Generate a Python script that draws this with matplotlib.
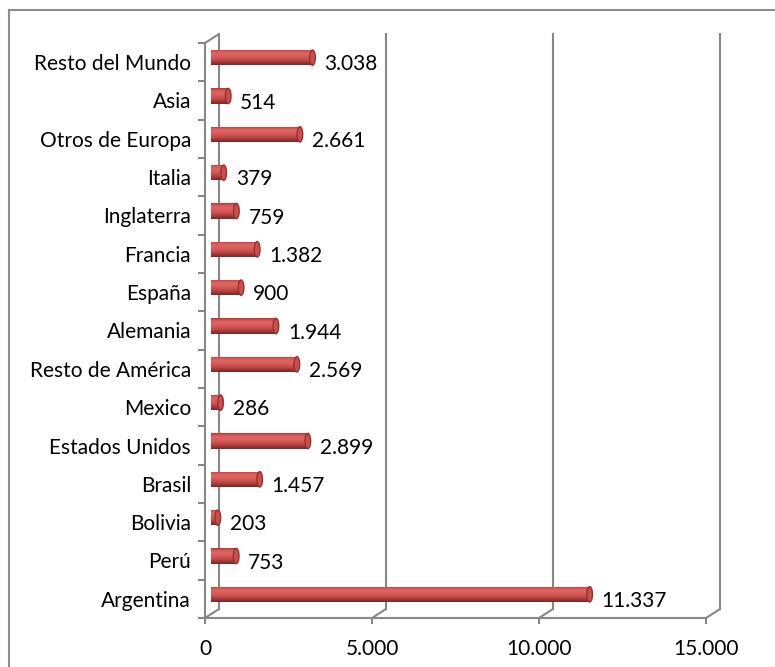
import matplotlib
matplotlib.use("Agg")
import matplotlib.pyplot as plt
import numpy as np
from matplotlib.transforms import ScaledTranslation
from matplotlib.patches import ConnectionPatch, Ellipse
from matplotlib.lines import Line2D
from matplotlib.colors import LinearSegmentedColormap

# Data
categories = ["Argentina", "Perú", "Bolivia", "Brasil", "Estados Unidos", "Mexico",
              "Resto de América", "Alemania", "España", "Francia", "Inglaterra",
              "Italia", "Otros de Europa", "Asia", "Resto del Mundo"]
values = [11337, 753, 203, 1457, 2899, 286, 2569, 1944, 900, 1382, 759, 379,
          2661, 514, 3038]
x_ticks = [0, 5000, 10000, 15000]

W, H, DPI = 775, 667, 100
fig = plt.figure(figsize=(W / DPI, H / DPI), dpi=DPI)
plt.rcParams["font.family"] = ["Lato", "DejaVu Sans"]
FS = 15
GRAY = "#878787"

# front plane of the 3-D box
left_px, right_px, bot_px, top_px = 205, 706, 618, 43
ax = fig.add_axes([left_px / W, (H - bot_px) / H, (right_px - left_px) / W,
                   (bot_px - top_px) / H])
n = len(categories)
ax.set_xlim(0, 15000)
ax.set_ylim(-0.5, n - 0.5)
ax.patch.set_visible(False)

back = ax.transData + ScaledTranslation(0.14, 0.09, fig.dpi_scale_trans)
mid = ax.transData + ScaledTranslation(0.06, 0.045, fig.dpi_scale_trans)

# spines / ticks
for s in ["top", "right"]:
    ax.spines[s].set_visible(False)
for s in ["left", "bottom"]:
    ax.spines[s].set_color(GRAY)
    ax.spines[s].set_linewidth(1.5)

ax.set_xticks(x_ticks)
ax.set_xticklabels([f"{t:,}".replace(",", ".") for t in x_ticks], fontsize=FS)
ax.tick_params(axis="x", length=4, width=1.5, color=GRAY, pad=11)

ypos = np.arange(n)
ax.set_yticks(ypos)
ax.set_yticklabels(categories, fontsize=FS)
ax.set_yticks(np.arange(n + 1) - 0.5, minor=True)
ax.tick_params(axis="y", which="major", length=0, pad=10)
ax.tick_params(axis="y", which="minor", length=5, width=1.5, color=GRAY)

# back wall gridlines and floor edges
for t in x_ticks:
    ax.add_line(Line2D([t, t], [-0.5, n - 0.5], transform=back, color=GRAY,
                       lw=1.5, clip_on=False, zorder=1))
    cp = ConnectionPatch((t, -0.5), (t, -0.5), coordsA=ax.transData, coordsB=back,
                         color=GRAY, lw=1.5, zorder=1)
    ax.add_artist(cp)
cp = ConnectionPatch((0, n - 0.5), (0, n - 0.5), coordsA=ax.transData, coordsB=back,
                     color=GRAY, lw=1.5, zorder=1)
ax.add_artist(cp)

# cylinder bars: vertical shading gradient clipped to each bar
shade = LinearSegmentedColormap.from_list(
    "cyl", ["#7f2523", "#9c3331", "#bb4643", "#cf5451", "#d95e5b", "#de6663",
            "#d35a57", "#a93c39"])
grad = np.linspace(0, 1, 64).reshape(-1, 1)
bar_h = 0.40
cap_w = 170
for i, v in enumerate(values):
    rect = ax.barh(i, v, height=bar_h, color="#c9504d", lw=0, transform=mid,
                   clip_on=False, zorder=3)[0]
    im = ax.imshow(grad, cmap=shade, aspect="auto", origin="lower",
                   extent=(0, v, i - bar_h / 2, i + bar_h / 2),
                   interpolation="bilinear", zorder=3)
    im.set_transform(mid)
    im.set_clip_path(rect)
    ax.add_patch(Ellipse((v, i), cap_w, bar_h, facecolor="#c84f4c",
                         edgecolor="#9a302e", lw=1.0, transform=mid, clip_on=False,
                         zorder=4))
    ax.annotate(f"{v:,}".replace(",", "."), xy=(v, i), xytext=(13, -1.5),
                textcoords="offset points", va="center", ha="left", fontsize=FS,
                zorder=5)
ax.set_xlim(0, 15000)
ax.set_ylim(-0.5, n - 0.5)

# outer chart border
fig.add_artist(Line2D([9 / W, 9 / W], [0, 1 - 10 / H], color="#8c8c8c", lw=1.5))
fig.add_artist(Line2D([9 / W, 1], [1 - 10 / H, 1 - 10 / H], color="#8c8c8c", lw=1.5))

fig.savefig("out.png", dpi=DPI)
